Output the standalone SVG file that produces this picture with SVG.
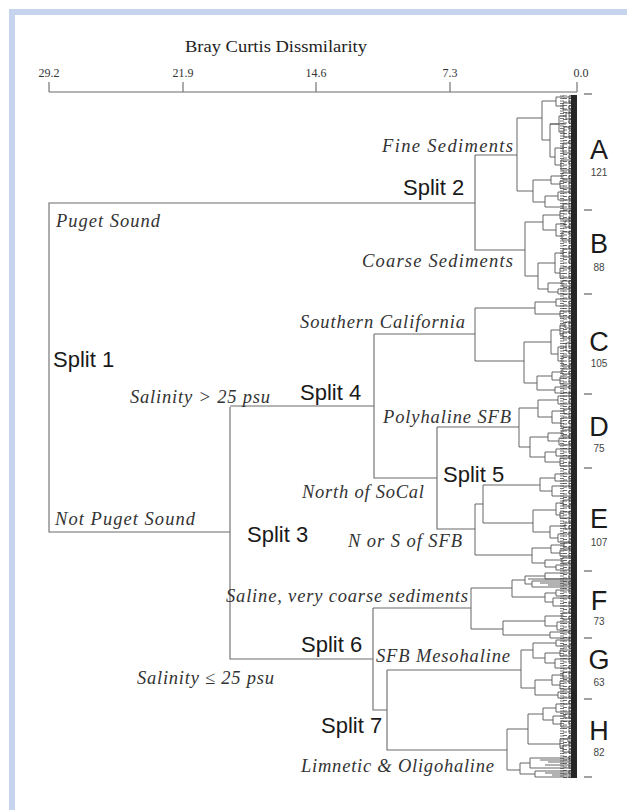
<svg xmlns="http://www.w3.org/2000/svg" width="627" height="810" viewBox="0 0 627 810">
<defs>
<style>
.ln{fill:none;stroke:#6a6a6a;stroke-width:1.1}
.fn{fill:none;stroke:#555;stroke-width:0.9}
.it{font-family:"Liberation Serif","Times New Roman",serif;font-style:italic;font-size:18.5px;fill:#333}
.sp{font-family:"Liberation Sans",Arial,sans-serif;font-size:22px;fill:#1a1a1a}
.big{font-family:"Liberation Sans",Arial,sans-serif;font-size:27px;fill:#1a1a1a;text-anchor:middle}
.cnt{font-family:"Liberation Sans",Arial,sans-serif;font-size:10px;fill:#444;text-anchor:middle}
.ax{font-family:"Liberation Serif","Times New Roman",serif;font-size:12px;fill:#333;text-anchor:middle}
.dash{stroke:#444;stroke-width:1.2}
</style>
<pattern id="comb1" patternUnits="userSpaceOnUse" x="0" y="95" width="12" height="5">
<path d="M12 1 H5 V3.5 H12" fill="none" stroke="#555" stroke-width="0.8"/>
</pattern>
<pattern id="comb2" patternUnits="userSpaceOnUse" x="0" y="97" width="9" height="7">
<path d="M9 1.5 H2 V5 H9" fill="none" stroke="#444" stroke-width="0.8"/>
</pattern>
</defs>
<rect width="627" height="810" fill="#fff"/>
<g id="frame" fill="#c7d4ee">
<rect x="9" y="9" width="618" height="6"/>
<rect x="9" y="9" width="6" height="801"/>
</g>
<g id="axis">
<text x="276" y="52" font-family="Liberation Serif, Times New Roman, serif" font-size="17" fill="#222" text-anchor="middle" textLength="182" lengthAdjust="spacingAndGlyphs">Bray Curtis Dissmilarity</text>
<text class="ax" x="49" y="77">29.2</text>
<text class="ax" x="183" y="77">21.9</text>
<text class="ax" x="316" y="77">14.6</text>
<text class="ax" x="450" y="77">7.3</text>
<text class="ax" x="581" y="77">0.0</text>
<path class="ln" d="M49 92 H577 M49 82 V92 M183 82 V92 M316 82 V92 M450 82 V92 M577 82 V92"/>
</g>
<g id="connectors">
<path class="ln" d="M475 203 H49 V532 H230 M230 407 V659 H373 M230 406 H374 M374 334 V478 H437 M374 334 H475 M437 427 V529 H475 M437 427 H519 M475 155 V250 H525 M475 155 H517 M373 608 V710 H387 M373 608 H471 M387 670 V750 H507 M387 670 H521"/>
<path id="clA" class="fn" d="M542 118 H517 V191 H533 M556 101 H542 V140 H550 M572 97 H556 V106 H563 M572 103 H563 V110 H572 M566 124 H550 V157 H555 M566 116 H559 V132 H564 M559 124 H550 M572 113 H566 V119 H572 M572 127 H564 V137 H572 M563 148 H555 V165 H561 M572 143 H563 V153 H572 M572 160 H561 V170 H572 M551 180 H533 V202 H545 M562 176 H551 V184 H560 M572 173 H562 V179 H572 M572 181 H560 V188 H572 M558 196 H545 V207 H563 M572 192 H558 V200 H572 M572 204 H563 V209 H572"/>
<path id="clB" class="fn" d="M543 222 H525 V276 H538 M560 215 H543 V230 H556 M572 211 H560 V219 H572 M565 224 H556 V236 H562 M572 221 H565 V227 H572 M572 232 H562 V240 H572 M555 263 H538 V289 H548 M563 253 H555 V273 H560 M572 249 H563 V257 H572 M572 268 H560 V278 H572 M562 283 H548 V292 H558 M572 281 H562 V286 H572 M572 289 H558 V294 H572"/>
<path id="clC" class="fn" d="M535 308 H475 V361 H524 M556 302 H535 V314 H560 M572 299 H556 V306 H572 M572 311 H560 V317 H572 M551 342 H524 V383 H537 M560 330 H551 V354 H558 M565 325 H560 V335 H563 M572 322 H565 V328 H572 M572 332 H563 V338 H572 M566 347 H558 V361 H562 M572 343 H566 V351 H572 M572 356 H562 V366 H572 M552 376 H537 V390 H555 M562 372 H552 V380 H560 M572 369 H562 V374 H572 M572 377 H560 V384 H572 M572 387 H555 V393 H572"/>
<path id="clD" class="fn" d="M538 408 H519 V447 H530 M558 400 H538 V417 H552 M572 396 H558 V404 H572 M564 411 H552 V423 H561 M572 409 H564 V414 H572 M572 418 H561 V427 H572 M548 437 H530 V457 H545 M562 433 H548 V441 H559 M572 430 H562 V436 H572 M572 438 H559 V445 H572 M556 452 H545 V462 H560 M572 449 H556 V456 H572 M572 458 H560 V466 H572"/>
<path id="clE" class="fn" d="M483 504 H475 V555 H532 M540 485 H483 V523 H533 M555 478 H540 V491 H552 M572 474 H555 V481 H572 M572 486 H552 V496 H572 M556 510 H533 V532 H550 M563 503 H556 V515 H560 M572 500 H563 V506 H572 M572 512 H560 V518 H572 M565 526 H550 V538 H558 M572 523 H565 V529 H572 M572 534 H558 V542 H572 M551 548 H532 V563 H545 M564 545 H551 V553 H560 M572 543 H564 V548 H572 M572 550 H560 V556 H572 M562 560 H545 V567 H556 M572 558 H562 V563 H572 M572 565 H556 V570 H572"/>
<path id="clF" class="fn" d="M512 588 H471 V629 H503 M525 580 H512 V597 H545 M545 576 H525 V584 H532 M572 573 H545 V579 H572 M572 581 H532 V587 H572 M572 583 H540 M572 585 H548 M572 579 H528 M556 593 H545 V602 H553 M572 590 H556 V596 H572 M572 598 H553 V606 H572 M545 621 H503 V635 H550 M562 616 H545 V626 H557 M572 613 H562 V619 H572 M572 622 H557 V630 H572 M572 632 H550 V638 H572"/>
<path id="clG" class="fn" d="M533 650 H521 V688 H535 M556 643 H533 V658 H545 M572 640 H556 V646 H572 M560 653 H545 V663 H555 M572 650 H560 V656 H572 M572 659 H555 V668 H572 M552 680 H535 V695 H558 M563 675 H552 V685 H560 M572 672 H563 V678 H572 M572 681 H560 V689 H572 M572 692 H558 V698 H572"/>
<path id="clH" class="fn" d="M528 729 H507 V770 H520 M543 714 H528 V744 H560 M556 708 H543 V720 H553 M572 704 H556 V712 H572 M565 716 H553 V724 H561 M572 714 H565 V718 H572 M572 721 H561 V727 H572 M568 739 H560 V748 H563 M572 737 H568 V742 H572 M572 745 H563 V752 H572 M530 763 H520 V774 H535 M572 758 H530 V768 H572 M572 760 H540 M572 762 H548 M572 765 H545 M572 771 H535 V777 H572 M572 773 H545 M572 775 H552"/>
<rect x="560" y="95" width="12" height="683" fill="url(#comb1)"/>
<rect x="563" y="95" width="9" height="683" fill="url(#comb2)"/>
<rect x="571" y="95" width="6" height="683" fill="#262626"/>
</g>
<g id="branch-labels" class="it">
<text x="382" y="152" textLength="131" lengthAdjust="spacing">Fine  Sediments</text>
<text x="362" y="267" textLength="151" lengthAdjust="spacing">Coarse  Sediments</text>
<text x="56" y="227" textLength="104" lengthAdjust="spacing">Puget Sound</text>
<text x="55" y="525" textLength="140" lengthAdjust="spacing">Not Puget Sound</text>
<text x="300" y="328" textLength="165" lengthAdjust="spacing">Southern California</text>
<text x="130" y="403" textLength="140" lengthAdjust="spacing">Salinity &gt; 25 psu</text>
<text x="383" y="423" textLength="128" lengthAdjust="spacing">Polyhaline SFB</text>
<text x="302" y="498" textLength="122" lengthAdjust="spacing">North of SoCal</text>
<text x="348" y="547" textLength="114" lengthAdjust="spacing">N or S of SFB</text>
<text x="226" y="602" textLength="242" lengthAdjust="spacing">Saline, very coarse sediments</text>
<text x="376" y="662" textLength="134" lengthAdjust="spacing">SFB Mesohaline</text>
<text x="137" y="684" textLength="137" lengthAdjust="spacing">Salinity ≤ 25 psu</text>
<text x="301" y="772" textLength="193" lengthAdjust="spacing">Limnetic &amp; Oligohaline</text>
</g>
<g id="split-labels" class="sp">
<text x="53" y="367">Split 1</text>
<text x="403" y="195">Split 2</text>
<text x="247" y="542">Split 3</text>
<text x="300" y="400">Split 4</text>
<text x="443" y="482">Split 5</text>
<text x="301" y="652">Split 6</text>
<text x="321" y="733">Split 7</text>
</g>
<g id="cluster-A"><text class="big" x="599" y="159">A</text><text class="cnt" x="599" y="176">121</text></g>
<g id="cluster-B"><text class="big" x="599" y="253">B</text><text class="cnt" x="599" y="271">88</text></g>
<g id="cluster-C"><text class="big" x="599" y="351">C</text><text class="cnt" x="599" y="367">105</text></g>
<g id="cluster-D"><text class="big" x="599" y="436">D</text><text class="cnt" x="599" y="452">75</text></g>
<g id="cluster-E"><text class="big" x="599" y="528">E</text><text class="cnt" x="599" y="546">107</text></g>
<g id="cluster-F"><text class="big" x="599" y="610">F</text><text class="cnt" x="599" y="625">73</text></g>
<g id="cluster-G"><text class="big" x="599" y="669">G</text><text class="cnt" x="599" y="686">63</text></g>
<g id="cluster-H"><text class="big" x="599" y="740">H</text><text class="cnt" x="599" y="756">82</text></g>
<g id="separators" class="dash">
<path d="M584 94 H592 M584 210 H592 M584 294 H592 M584 394 H592 M584 468 H592 M584 571 H592 M584 638 H592 M584 699 H592 M584 777 H592"/>
</g>
</svg>
